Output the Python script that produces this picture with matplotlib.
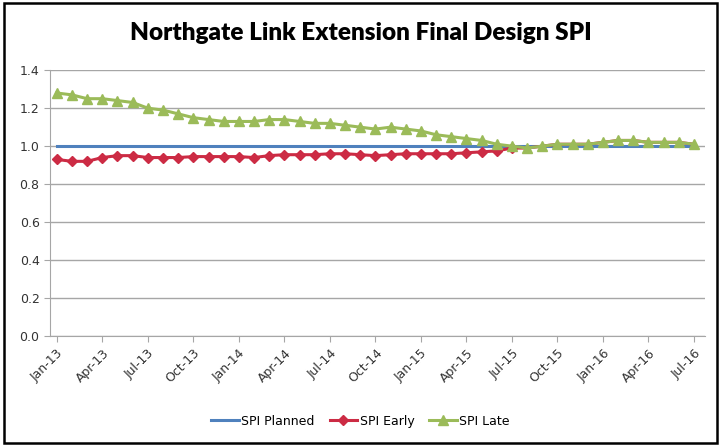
import matplotlib
matplotlib.use("Agg")
import matplotlib.pyplot as plt
from matplotlib.patches import Rectangle

months = ["Jan", "Feb", "Mar", "Apr", "May", "Jun", "Jul", "Aug", "Sep", "Oct", "Nov", "Dec"]
years = ["13", "14", "15", "16"]
dates = [f"{m}-{y}" for y in years for m in months][:43]

spi_planned = [1.0] * 43
spi_early = [0.93, 0.92, 0.92, 0.94, 0.95, 0.95, 0.94, 0.94, 0.94, 0.945,
             0.945, 0.945, 0.945, 0.94, 0.95, 0.955, 0.955, 0.955, 0.96, 0.96,
             0.955, 0.95, 0.955, 0.96, 0.96, 0.96, 0.96, 0.965, 0.97, 0.975,
             0.99, 0.99, 1.00, 1.01, 1.01, 1.01, 1.02, 1.03, 1.03, 1.02,
             1.02, 1.02, 1.01]
spi_late = [1.28, 1.27, 1.25, 1.25, 1.24, 1.23, 1.20, 1.19, 1.17, 1.15,
            1.14, 1.13, 1.13, 1.13, 1.14, 1.14, 1.13, 1.12, 1.12, 1.11,
            1.10, 1.09, 1.10, 1.09, 1.08, 1.06, 1.05, 1.04, 1.03, 1.01,
            1.00, 0.99, 1.00, 1.01, 1.01, 1.01, 1.02, 1.03, 1.03, 1.02,
            1.02, 1.02, 1.01]

x = list(range(len(dates)))

fig = plt.figure(figsize=(7.21, 4.46), dpi=100)
fig.patch.set_facecolor("white")
fig.patches.append(Rectangle((0.006, 0.006), 0.988, 0.988, transform=fig.transFigure,
                             fill=False, edgecolor="black", linewidth=1.8))

ax = fig.add_axes([0.0693, 0.2466, 0.908, 0.596])
ax.plot(x, spi_planned, color="#4F81BD", linewidth=2.2, label="SPI Planned", zorder=3)
ax.plot(x, spi_early, color="#CC2B44", linewidth=2.2, marker="D", markersize=5,
        markevery=list(range(0, 31)), label="SPI Early", zorder=4)
ax.plot(x, spi_late, color="#9BBB59", linewidth=2.2, marker="^", markersize=7,
        label="SPI Late", zorder=5)

ax.set_ylim(0, 1.4)
ax.set_yticks([0.0, 0.2, 0.4, 0.6, 0.8, 1.0, 1.2, 1.4])
ax.set_yticklabels([f"{v:.1f}" for v in [0.0, 0.2, 0.4, 0.6, 0.8, 1.0, 1.2, 1.4]])
ax.set_xlim(-0.45, 42.7)
ax.set_xticks(x[::3])
ax.set_xticklabels(dates[::3], rotation=45, ha="right", rotation_mode="anchor")

ax.grid(axis="y", color="#A6A6A6", linewidth=1)
ax.set_axisbelow(True)
for s in ["top", "right"]:
    ax.spines[s].set_visible(False)
ax.spines["left"].set_color("#A6A6A6")
ax.spines["bottom"].set_color("#A6A6A6")
ax.tick_params(axis="both", colors="#A6A6A6", labelcolor="#333333", labelsize=9, length=4)
for lbl in ax.get_xticklabels() + ax.get_yticklabels():
    lbl.set_family(["Liberation Sans Narrow", "DejaVu Sans"])

fig.text(0.5, 0.927, "Northgate Link Extension Final Design SPI", ha="center", va="center",
         fontsize=17.5, fontweight="heavy", family=["Lato", "DejaVu Sans"])

leg = fig.legend(loc="center", bbox_to_anchor=(0.5, 0.056), ncol=3, frameon=False,
                 prop={"family": ["Liberation Sans Narrow", "DejaVu Sans"], "size": 9},
                 handlelength=2.2, columnspacing=1.2, handletextpad=0.2)

fig.savefig("out.png", dpi=100)
